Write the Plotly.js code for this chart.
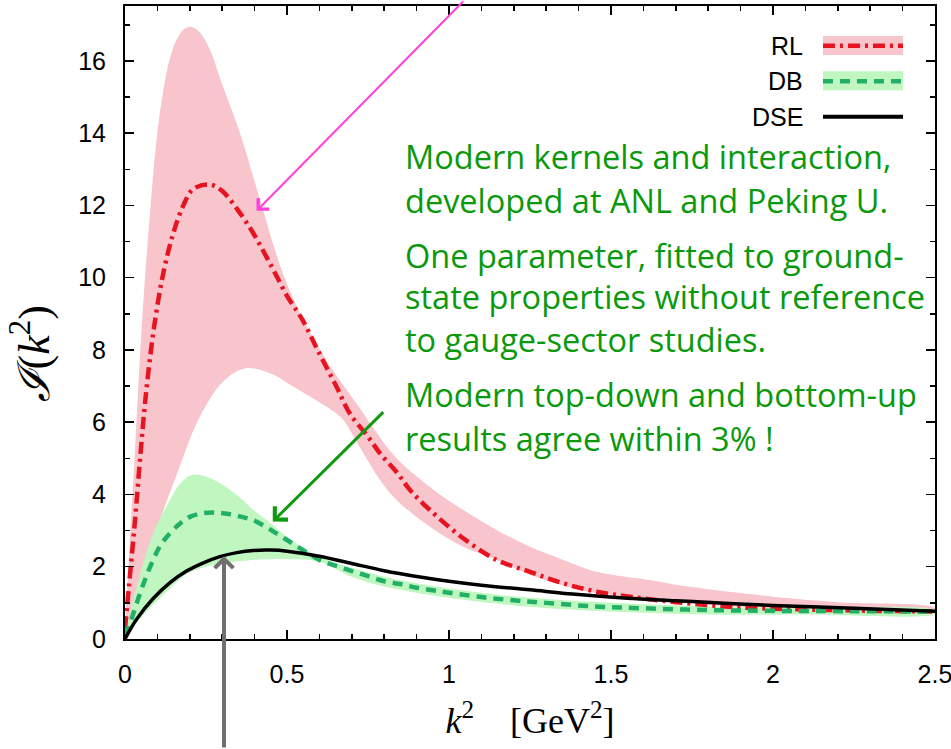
<!DOCTYPE html>
<html>
<head>
<meta charset="utf-8">
<script src="https://cdn.plot.ly/plotly-3.0.1.min.js"></script>
<style>html,body{margin:0;padding:0;background:#fff;}#chart{width:951px;height:749px;}</style>
</head>
<body>
<div id="chart"></div>
<script>
// ---------- data ----------
// RL central curve
const rlX = [0, 0.012, 0.031, 0.048, 0.067, 0.093, 0.12, 0.149, 0.18, 0.21, 0.262, 0.3, 0.35, 0.396, 0.453, 0.5, 0.548, 0.6, 0.653, 0.694, 0.75, 0.787, 0.84, 0.88, 0.941, 1.044, 1.147, 1.25, 1.353, 1.456, 1.559, 1.7, 1.85, 2.0, 2.25, 2.5];
const rlY = [0.3, 1.45, 3.29, 5.14, 6.98, 8.83, 10.2, 11.23, 12.0, 12.45, 12.58, 12.4, 11.85, 11.23, 10.3, 9.5, 8.83, 7.9, 6.98, 6.24, 5.6, 5.14, 4.6, 4.12, 3.57, 2.79, 2.19, 1.86, 1.54, 1.31, 1.17, 1.02, 0.9, 0.84, 0.79, 0.76];
// RL band upper edge
const rlUpX = [0, 0.008, 0.018, 0.03, 0.041, 0.052, 0.065, 0.08, 0.097, 0.115, 0.135, 0.16, 0.185, 0.206, 0.23, 0.26, 0.3, 0.355, 0.417, 0.478, 0.53, 0.58, 0.63, 0.68, 0.72, 0.77, 0.838, 0.941, 1.044, 1.147, 1.25, 1.353, 1.456, 1.62, 1.7, 1.8, 1.9, 2.0, 2.2, 2.5];
const rlUpY = [0.4, 1.6, 3.2, 5.1, 6.98, 8.7, 10.4, 12.1, 13.8, 15.0, 15.95, 16.6, 16.9, 16.94, 16.8, 16.35, 15.35, 14.0, 12.15, 10.35, 9.2, 8.35, 7.6, 6.95, 6.45, 5.8, 5.0, 4.21, 3.57, 3.02, 2.55, 2.19, 1.86, 1.63, 1.5, 1.38, 1.27, 1.17, 1.02, 0.86];
// RL band lower edge
const rlLoX = [0, 0.025, 0.062, 0.108, 0.165, 0.226, 0.3, 0.37, 0.45, 0.52, 0.6, 0.658, 0.674, 0.736, 0.787, 0.838, 0.941, 1.044, 1.147, 1.25, 1.353, 1.456, 1.62, 1.8, 2.0, 2.25, 2.5];
const rlLoY = [0, 0.8, 1.91, 3.29, 4.68, 6.06, 7.1, 7.49, 7.35, 6.98, 6.55, 6.2, 6.06, 5.14, 4.4, 3.85, 3.11, 2.55, 2.19, 1.78, 1.48, 1.27, 1.1, 0.95, 0.85, 0.79, 0.75];

// DB central curve
const dbX = [0, 0.02, 0.036, 0.06, 0.087, 0.11, 0.139, 0.17, 0.2, 0.24, 0.278, 0.32, 0.36, 0.396, 0.45, 0.5, 0.55, 0.6, 0.65, 0.7, 0.75, 0.8, 0.85, 0.9, 0.95, 1.0, 1.1, 1.2, 1.3, 1.45, 1.6, 1.8, 2.0, 2.25, 2.5];
const dbY = [0.1, 0.55, 0.99, 1.6, 2.19, 2.6, 2.93, 3.2, 3.38, 3.48, 3.5, 3.46, 3.38, 3.29, 3.02, 2.74, 2.46, 2.19, 2.03, 1.88, 1.74, 1.6, 1.52, 1.42, 1.35, 1.28, 1.16, 1.07, 1.0, 0.9, 0.85, 0.8, 0.78, 0.77, 0.76];
// DB band upper edge
const dbUpX = [0, 0.036, 0.087, 0.139, 0.17, 0.206, 0.25, 0.293, 0.35, 0.396, 0.45, 0.5, 0.55, 0.6, 0.65, 0.7, 0.8, 0.9, 1.0, 1.2, 1.5, 1.8, 2.1, 2.5];
const dbUpY = [0.1, 1.45, 2.93, 3.85, 4.3, 4.54, 4.5, 4.31, 3.95, 3.57, 3.2, 2.83, 2.52, 2.28, 2.1, 1.97, 1.72, 1.54, 1.4, 1.18, 1.0, 0.9, 0.85, 0.8];
// DB band lower edge
const dbLoX = [0, 0.05, 0.087, 0.139, 0.19, 0.25, 0.293, 0.35, 0.396, 0.45, 0.5, 0.6, 0.7, 0.8, 0.9, 1.0, 1.2, 1.5, 1.8, 2.1, 2.5];
const dbLoY = [0, 0.6, 0.95, 1.4, 1.8, 2.0, 2.08, 2.15, 2.19, 2.21, 2.21, 2.14, 1.72, 1.45, 1.28, 1.14, 0.93, 0.76, 0.68, 0.68, 0.7];

// DSE curve
const dseX = [0, 0.036, 0.087, 0.139, 0.19, 0.242, 0.293, 0.345, 0.396, 0.45, 0.5, 0.6, 0.7, 0.8, 0.9, 1.0, 1.1, 1.25, 1.4, 1.55, 1.7, 1.85, 2.0, 2.25, 2.5];
const dseY = [0, 0.55, 1.12, 1.56, 1.88, 2.11, 2.28, 2.39, 2.45, 2.46, 2.43, 2.29, 2.09, 1.89, 1.73, 1.6, 1.49, 1.36, 1.23, 1.13, 1.06, 0.99, 0.93, 0.85, 0.77];

// labels
const legendNames = ["RL", "DB", "DSE"];
const xTitle = "<i>k</i><sup>2</sup>\u2002\u2002[GeV<sup>2</sup>]";
const yTitle = "<i>\u2110</i>(<i>k</i><sup>2</sup>)";
const noteLines = [
  "Modern kernels and interaction,",
  "developed at ANL and Peking U.",
  "One parameter, fitted to ground-",
  "state properties without reference",
  "to gauge-sector studies.",
  "Modern top-down and bottom-up",
  "results agree within 3% !"
];

// ---------- styles ----------
const PINK = "#f7c5cb", GREENFILL = "#c0f6c0", RED = "#e61420", GREEN = "#22b068", NOTE = "#0a990a";
const SM = 1.0;

function band(xu, yu, xl, yl, color) {
  return {
    x: xu.concat(xl.slice().reverse()),
    y: yu.concat(yl.slice().reverse()),
    type: "scatter", mode: "lines", fill: "toself", fillcolor: color,
    line: {width: 0, shape: "spline", smoothing: SM}, hoverinfo: "skip", showlegend: false
  };
}

const traces = [
  band(rlUpX, rlUpY, rlLoX, rlLoY, PINK),
  band(dbUpX, dbUpY, dbLoX, dbLoY, GREENFILL),
  {x: rlX, y: rlY, type: "scatter", mode: "lines", name: legendNames[0],
   line: {color: RED, width: 4.5, dash: "12px,5px,3px,5px", shape: "spline", smoothing: SM}, showlegend: false},
  {x: dbX, y: dbY, type: "scatter", mode: "lines", name: legendNames[1],
   line: {color: GREEN, width: 4.5, dash: "10px,7px", shape: "spline", smoothing: SM}, showlegend: false},
  {x: dseX, y: dseY, type: "scatter", mode: "lines", name: legendNames[2],
   line: {color: "#000", width: 3.5, shape: "spline", smoothing: SM}, showlegend: false},
  // invisible trace so the mirrored (top/right) tick axes are drawn
  {x: dseX, y: dseY, xaxis: "x2", yaxis: "y2", type: "scatter", mode: "lines",
   line: {width: 0}, opacity: 0, hoverinfo: "skip", showlegend: false}
];

const noteY = [0.7615, 0.6935, 0.6051, 0.5403, 0.4724, 0.3855, 0.3175];
const annotations = noteLines.map((t, i) => ({
  xref: "paper", yref: "paper", x: 0.3432, y: noteY[i], xanchor: "left", yanchor: "middle",
  text: t, showarrow: false, font: {family: "'Open Sans', Lato, sans-serif", size: 32.5, color: NOTE}
}));

const legY = [0.9373, 0.8812, 0.8251];
legendNames.forEach((n, i) => annotations.push({
  xref: "paper", yref: "paper", x: 0.8395, y: legY[i], xanchor: "right", yanchor: "middle",
  text: n, showarrow: false, font: {family: "Liberation Sans, Arial, sans-serif", size: 25, color: "#000"}
}));

// y-axis title (rotated), placed like the reference
annotations.push({xref: "paper", yref: "paper", x: -0.117, y: 0.45, xanchor: "center", yanchor: "middle",
  textangle: -90, text: yTitle, showarrow: false,
  font: {family: "Liberation Serif, 'DejaVu Serif', serif", size: 44, color: "#000"}});

// arrows
annotations.push({x: 0.406, y: 11.85, xref: "x", yref: "y", ax: 208, ay: -211, text: "", showarrow: true,
  arrowhead: 4, arrowsize: 1.5, arrowwidth: 2, arrowcolor: "#ff40dc"});
annotations.push({x: 0.456, y: 3.25, xref: "x", yref: "y", ax: 112, ay: -111, text: "", showarrow: true,
  arrowhead: 4, arrowsize: 1.2, arrowwidth: 3, arrowcolor: "#109a10"});
annotations.push({x: 0.3056, y: 2.30, xref: "x", yref: "y", ax: 0, ay: 193, text: "", showarrow: true,
  arrowhead: 4, arrowsize: 0.9, arrowwidth: 4, arrowcolor: "#707070"});

const shapes = [
  {type: "rect", xref: "paper", yref: "paper", x0: 0.8617, x1: 0.9605, y0: 0.9226, y1: 0.9526, fillcolor: PINK, line: {width: 0}},
  {type: "line", xref: "paper", yref: "paper", x0: 0.8617, x1: 0.9605, y0: legY[0], y1: legY[0], line: {color: RED, width: 4.5, dash: "12px,5px,3px,5px"}},
  {type: "rect", xref: "paper", yref: "paper", x0: 0.8617, x1: 0.9605, y0: 0.8669, y1: 0.8969, fillcolor: GREENFILL, line: {width: 0}},
  {type: "line", xref: "paper", yref: "paper", x0: 0.8617, x1: 0.9605, y0: legY[1], y1: legY[1], line: {color: GREEN, width: 4.5, dash: "10px,7px"}},
  {type: "line", xref: "paper", yref: "paper", x0: 0.8617, x1: 0.9605, y0: legY[2], y1: legY[2], line: {color: "#000", width: 4}}
];

const tickFont = {family: "Liberation Sans, Arial, sans-serif", size: 25, color: "#000"};
const XR = [0, 2.5001], YR = [0, 17.52];
const tickCommon = {ticks: "inside", ticklen: 9, tickwidth: 1.5, tickcolor: "#000", showgrid: false, zeroline: false};
const layout = {
  width: 951, height: 749,
  margin: {l: 125, r: 16, t: 6, b: 110},
  paper_bgcolor: "#fff", plot_bgcolor: "#fff",
  showlegend: false,
  xaxis: Object.assign({}, tickCommon, {
    range: XR, dtick: 0.5, tick0: 0,
    showline: true, linecolor: "#000", linewidth: 2, mirror: true,
    tickfont: tickFont, ticklabelstandoff: 12, ticklabeloverflow: "allow",
    minor: {dtick: 0.1, ticks: "inside", ticklen: 5, tickwidth: 1.5, tickcolor: "#000", showgrid: false},
    title: {text: xTitle, font: {family: "Liberation Serif, 'DejaVu Serif', serif", size: 36, color: "#000"}, standoff: 21}
  }),
  yaxis: Object.assign({}, tickCommon, {
    range: YR, dtick: 2, tick0: 0,
    showline: true, linecolor: "#000", linewidth: 2, mirror: true,
    tickfont: tickFont, ticklabelstandoff: 12,
    minor: {dtick: 1, ticks: "inside", ticklen: 5, tickwidth: 1.5, tickcolor: "#000", showgrid: false}
  }),
  xaxis2: Object.assign({}, tickCommon, {
    overlaying: "x", matches: "x", side: "top", anchor: "y2", range: XR, dtick: 0.5, tick0: 0,
    showticklabels: false, showline: false,
    minor: {dtick: 0.1, ticks: "inside", ticklen: 5, tickwidth: 1.5, tickcolor: "#000", showgrid: false}
  }),
  yaxis2: Object.assign({}, tickCommon, {
    overlaying: "y", side: "right", anchor: "x2", range: YR, dtick: 2, tick0: 0,
    showticklabels: false, showline: false,
    minor: {dtick: 1, ticks: "inside", ticklen: 5, tickwidth: 1.5, tickcolor: "#000", showgrid: false}
  }),
  annotations: annotations,
  shapes: shapes
};

Plotly.newPlot("chart", traces, layout, {displayModeBar: false, staticPlot: true});
</script>
</body>
</html>
